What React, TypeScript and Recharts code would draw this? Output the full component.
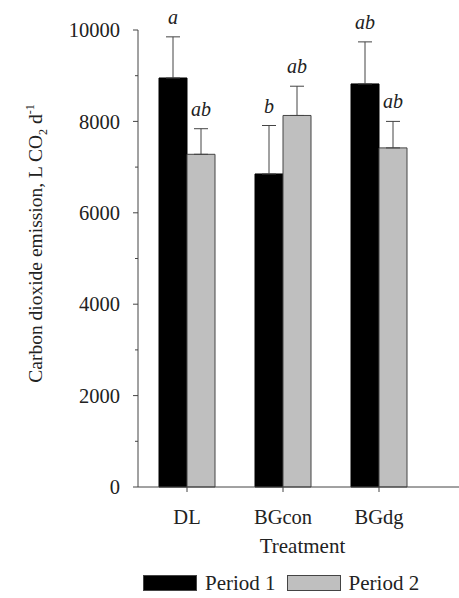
import { BarChart, Bar, XAxis, YAxis, ErrorBar, LabelList, Legend } from "recharts";

const categories = ["DL", "BGcon", "BGdg"];
const period1 = [8950, 6850, 8820];
const period2 = [7280, 8130, 7420];
const period1Err = [900, 1060, 920];
const period2Err = [560, 640, 580];
const period1Letters = ["a", "b", "ab"];
const period2Letters = ["ab", "ab", "ab"];
const yTicks = [0, 1000, 2000, 3000, 4000, 5000, 6000, 7000, 8000, 9000, 10000];

const FONT = '"Liberation Serif", "Times New Roman", serif';
const TEXT = "#222";
const AXIS = "#444";
const BLACK = "#000000";
const GRAY = "#bfbfbf";

const data = categories.map((name, i) => ({
  name,
  p1: period1[i],
  p2: period2[i],
  e1: [0, period1Err[i]],
  e2: [0, period2Err[i]],
}));

const YTick = (props: any) => {
  const { x, y, payload } = props;
  const axisX = x + 5 + 13;
  const major = payload.value % 2000 === 0;
  return (
    <g>
      <line x1={axisX - (major ? 5 : 3)} x2={axisX} y1={y} y2={y} stroke={AXIS} />
      {major && (
        <text x={x} y={y} dy="0.355em" textAnchor="end" fontFamily={FONT} fontSize={20.5} fill={TEXT}>
          {payload.value}
        </text>
      )}
    </g>
  );
};

const makeLetter = (errs: number[], letters: string[]) => (props: any) => {
  const { x, y, width, height, value, index } = props;
  const pxPerUnit = height / value;
  const top = y - errs[index] * pxPerUnit;
  return (
    <text
      x={x + width / 2}
      y={top - 13}
      textAnchor="middle"
      fontFamily={FONT}
      fontStyle="italic"
      fontSize={20}
      fill={TEXT}
    >
      {letters[index]}
    </text>
  );
};

const YLabel = (props: any) => {
  const { viewBox } = props;
  const cx = viewBox.x + 42;
  const cy = viewBox.y + viewBox.height / 2 - 15;
  return (
    <text
      x={cx}
      y={cy}
      transform={`rotate(-90, ${cx}, ${cy})`}
      textAnchor="middle"
      fontFamily={FONT}
      fontSize={19.5}
      fill={TEXT}
    >
      Carbon dioxide emission, L CO
      <tspan fontSize={12} dy={5}>2</tspan>
      <tspan dy={-5}> d</tspan>
      <tspan fontSize={12} dy={-8}>-1</tspan>
    </text>
  );
};

const XLabel = (props: any) => {
  const { viewBox } = props;
  return (
    <text
      x={viewBox.x + viewBox.width / 2 + 4}
      y={viewBox.y + 66}
      textAnchor="middle"
      fontFamily={FONT}
      fontSize={21}
      fill={TEXT}
    >
      Treatment
    </text>
  );
};

const LegendContent = () => {
  const items = [
    { label: "Period 1", color: BLACK },
    { label: "Period 2", color: GRAY },
  ];
  return (
    <div style={{ display: "flex", alignItems: "center", height: 30, paddingLeft: 143 }}>
      {items.map((it) => (
        <div key={it.label} style={{ display: "flex", alignItems: "center", marginRight: 11 }}>
          <div
            style={{
              width: 52,
              height: 14,
              background: it.color,
              border: `1px solid ${AXIS}`,
              marginRight: 8,
            }}
          />
          <span style={{ fontFamily: FONT, fontSize: 21, color: TEXT }}>{it.label}</span>
        </div>
      ))}
    </div>
  );
};

export default function App() {
  return (
    <div style={{ position: "absolute", left: 0, top: 0, background: "#fff" }}>
      <BarChart
        width={459}
        height={598}
        data={data}
        margin={{ top: 30, right: 0, left: 0, bottom: 0 }}
        barCategoryGap={20}
        barGap={0}
      >
        <XAxis
          dataKey="name"
          height={81}
          padding={{ left: 1, right: 32 }}
          stroke={AXIS}
          tickSize={5}
          tickMargin={17}
          tick={{ fontFamily: FONT, fontSize: 20.5, fill: TEXT }}
          label={<XLabel />}
        />
        <YAxis
          width={138}
          domain={[0, 10000]}
          ticks={yTicks}
          interval={0}
          stroke={AXIS}
          tickLine={false}
          tickSize={5}
          tickMargin={13}
          tick={<YTick />}
          label={<YLabel />}
        />
        <Legend verticalAlign="bottom" height={30} content={<LegendContent />} />
        <Bar dataKey="p1" name="Period 1" fill={BLACK} stroke={BLACK} isAnimationActive={false}>
          <ErrorBar dataKey="e1" width={7} stroke={AXIS} strokeWidth={1} direction="y" />
          <LabelList dataKey="p1" content={makeLetter(period1Err, period1Letters)} />
        </Bar>
        <Bar dataKey="p2" name="Period 2" fill={GRAY} stroke={AXIS} isAnimationActive={false}>
          <ErrorBar dataKey="e2" width={7} stroke={AXIS} strokeWidth={1} direction="y" />
          <LabelList dataKey="p2" content={makeLetter(period2Err, period2Letters)} />
        </Bar>
      </BarChart>
    </div>
  );
}
